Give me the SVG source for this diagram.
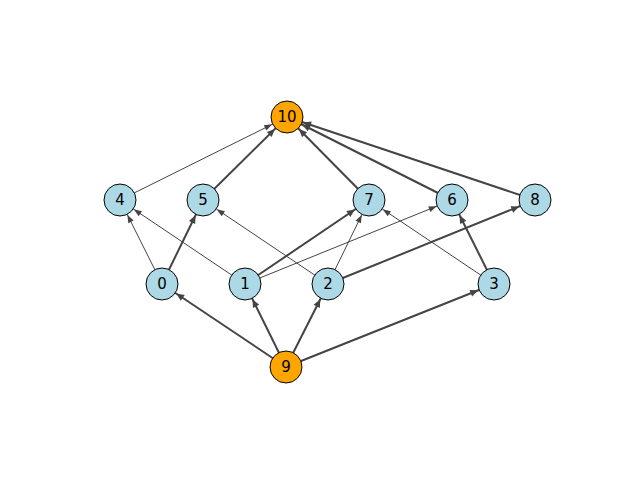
<svg xmlns="http://www.w3.org/2000/svg" width="640" height="480" viewBox="0 0 640 480">
<style>
.e{stroke:#444;fill:none}
.t{stroke-width:1}
.k{stroke-width:2}
circle{stroke:#000;stroke-width:1}
.b{fill:#add8e6}
.o{fill:#ffa500}
text{font-family:"DejaVu Sans",sans-serif;font-size:15px;text-anchor:middle;dominant-baseline:central;fill:#000}
</style>
<defs>
<marker id="a" markerUnits="userSpaceOnUse" viewBox="0 0 40 10" markerWidth="40" markerHeight="10" refX="25" refY="5" orient="auto" overflow="visible"><path d="M0,1.5 L8,5 L0,8.5 z" fill="#444"/></marker>
<marker id="at" markerUnits="userSpaceOnUse" viewBox="0 0 40 10" markerWidth="40" markerHeight="10" refX="24.5" refY="5" orient="auto" overflow="visible"><path d="M0,2 L8,5 L0,8 z" fill="#444"/></marker>
</defs>
<rect width="640" height="480" fill="#fff"/>
<g id="edges">
<line class="e k" x1="286" y1="367" x2="162" y2="284" marker-end="url(#a)"/>
<line class="e k" x1="286" y1="367" x2="245" y2="284" marker-end="url(#a)"/>
<line class="e k" x1="286" y1="367" x2="328" y2="284" marker-end="url(#a)"/>
<line class="e k" x1="286" y1="367" x2="494" y2="284" marker-end="url(#a)"/>
<line class="e k" x1="162" y1="284" x2="203" y2="200" marker-end="url(#a)"/>
<line class="e k" x1="245" y1="284" x2="369" y2="200" marker-end="url(#a)"/>
<line class="e k" x1="328" y1="284" x2="535" y2="200" marker-end="url(#a)"/>
<line class="e k" x1="494" y1="284" x2="452" y2="200" marker-end="url(#a)"/>
<line class="e k" x1="203" y1="200" x2="287" y2="117" marker-end="url(#a)"/>
<line class="e k" x1="369" y1="200" x2="287" y2="117" marker-end="url(#a)"/>
<line class="e k" x1="452" y1="200" x2="287" y2="117" marker-end="url(#a)"/>
<line class="e k" x1="535" y1="200" x2="287" y2="117" marker-end="url(#a)"/>
<line class="e t" x1="162" y1="284" x2="120" y2="200" marker-end="url(#at)"/>
<line class="e t" x1="245" y1="284" x2="120" y2="200" marker-end="url(#at)"/>
<line class="e t" x1="245" y1="284" x2="452" y2="200" marker-end="url(#at)"/>
<line class="e t" x1="328" y1="284" x2="203" y2="200" marker-end="url(#at)"/>
<line class="e t" x1="328" y1="284" x2="369" y2="200" marker-end="url(#at)"/>
<line class="e t" x1="494" y1="284" x2="369" y2="200" marker-end="url(#at)"/>
<line class="e t" x1="120" y1="200" x2="287" y2="117" marker-end="url(#at)"/>
</g>
<g id="n10"><circle class="o" cx="287" cy="117" r="16"/><text x="287" y="117">10</text></g>
<g id="n4"><circle class="b" cx="120" cy="200" r="16"/><text x="120" y="200">4</text></g>
<g id="n5"><circle class="b" cx="203" cy="200" r="16"/><text x="203" y="200">5</text></g>
<g id="n7"><circle class="b" cx="369" cy="200" r="16"/><text x="369" y="200">7</text></g>
<g id="n6"><circle class="b" cx="452" cy="200" r="16"/><text x="452" y="200">6</text></g>
<g id="n8"><circle class="b" cx="535" cy="200" r="16"/><text x="535" y="200">8</text></g>
<g id="n0"><circle class="b" cx="162" cy="284" r="16"/><text x="162" y="284">0</text></g>
<g id="n1"><circle class="b" cx="245" cy="284" r="16"/><text x="245" y="284">1</text></g>
<g id="n2"><circle class="b" cx="328" cy="284" r="16"/><text x="328" y="284">2</text></g>
<g id="n3"><circle class="b" cx="494" cy="284" r="16"/><text x="494" y="284">3</text></g>
<g id="n9"><circle class="o" cx="286" cy="367" r="16"/><text x="286" y="367">9</text></g>
</svg>
